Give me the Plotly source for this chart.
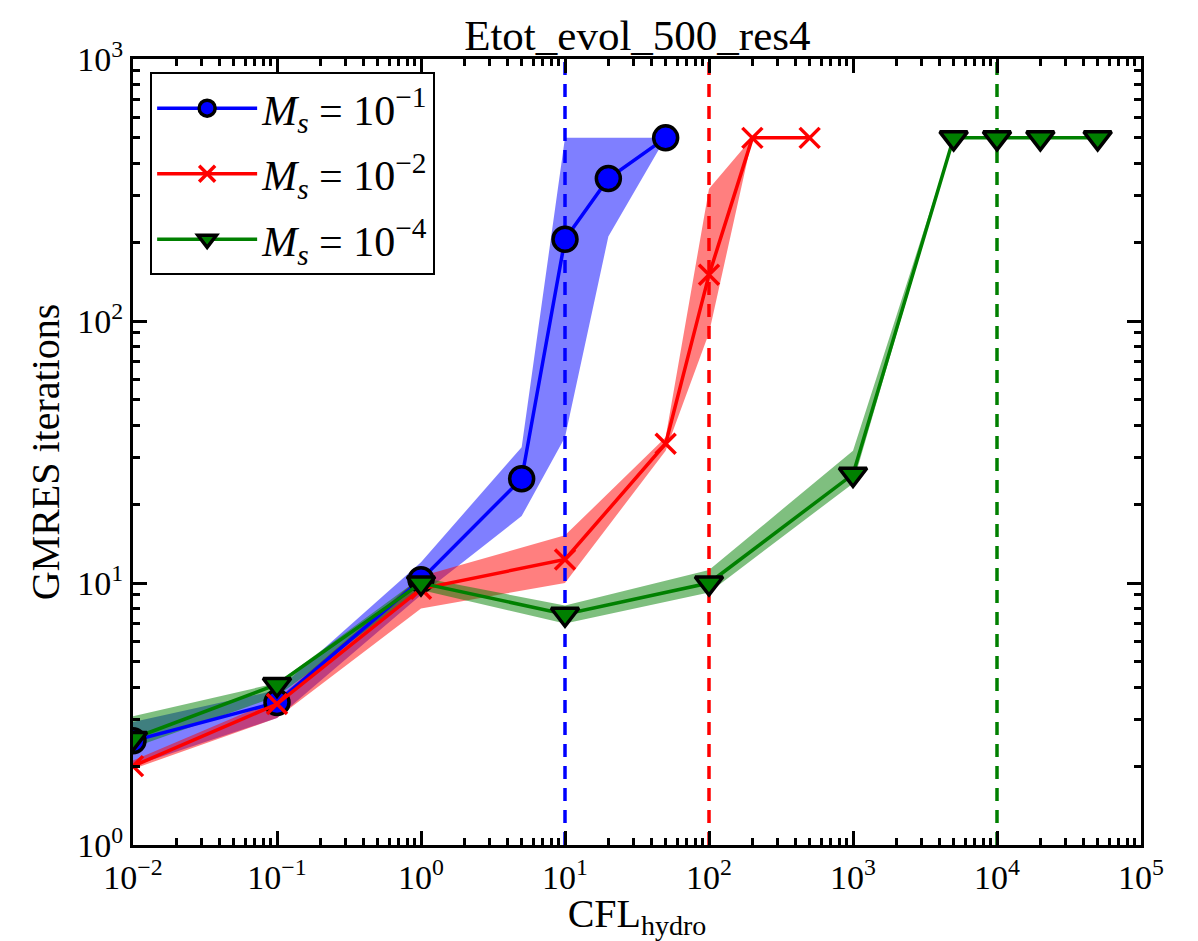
import plotly.graph_objects as go

# ---- data ----
x_ms1 = [0.01, 0.1, 1, 5, 10, 20, 50]
y_ms1 = [2.5, 3.5, 10.3, 25, 205, 350, 500]
lo_ms1 = [2.0, 3.05, 9.0, 18, 36, 210, 500]
hi_ms1 = [2.95, 3.9, 12.0, 33, 500, 500, 500]

x_ms2 = [0.01, 0.1, 1, 10, 50, 100, 200, 500]
y_ms2 = [2.0, 3.45, 9.5, 12.3, 34, 150, 500, 500]
lo_ms2 = [1.95, 3.05, 8.0, 10.0, 32, 90, 500, 500]
hi_ms2 = [2.1, 3.6, 10.6, 15.2, 36, 320, 500, 500]

x_ms4 = [0.01, 0.1, 1, 10, 100, 1000, 5000, 10000, 20000, 50000]
y_ms4 = [2.55, 4.1, 10.0, 7.6, 10.0, 26, 500, 500, 500, 500]
lo_ms4 = [2.35, 3.7, 9.4, 7.0, 9.2, 24, 500, 500, 500, 500]
hi_ms4 = [3.1, 4.15, 10.5, 8.2, 11.2, 32, 500, 500, 500, 500]

crit_cfl = [10, 100, 10000]
crit_colors = ["blue", "red", "green"]
y_range_vals = [1, 1000]

x_tickvals = [1e-2, 1e-1, 1, 10, 100, 1e3, 1e4, 1e5]
x_ticktext = ["10<sup>−2</sup>", "10<sup>−1</sup>", "10<sup>0</sup>", "10<sup>1</sup>",
              "10<sup>2</sup>", "10<sup>3</sup>", "10<sup>4</sup>", "10<sup>5</sup>"]
y_tickvals = [1, 10, 100, 1000]
y_ticktext = ["10<sup>0</sup>", "10<sup>1</sup>", "10<sup>2</sup>", "10<sup>3</sup>"]

# minor tick positions: digits 2..9 in each decade
x_minor = [d * 10.0 ** e for e in range(-2, 5) for d in range(2, 10)]
y_minor = [d * 10.0 ** e for e in range(0, 3) for d in range(2, 10)]

NB = "\u00a0"
series = [
    dict(name=f"<i>M</i><sub><i>s</i></sub>{NB}={NB}10<sup>−1</sup>", x=x_ms1, y=y_ms1, lo=lo_ms1, hi=hi_ms1,
         color="blue", fill="rgba(0,0,255,0.5)", symbol="circle", size=24),
    dict(name=f"<i>M</i><sub><i>s</i></sub>{NB}={NB}10<sup>−2</sup>", x=x_ms2, y=y_ms2, lo=lo_ms2, hi=hi_ms2,
         color="red", fill="rgba(255,0,0,0.5)", symbol="x-thin", size=20),
    dict(name=f"<i>M</i><sub><i>s</i></sub>{NB}={NB}10<sup>−4</sup>", x=x_ms4, y=y_ms4, lo=lo_ms4, hi=hi_ms4,
         color="green", fill="rgba(0,128,0,0.5)", symbol="triangle-down", size=24),
]

FONT = "Liberation Serif"
fig = go.Figure()

# bands
for s in series:
    fig.add_trace(go.Scatter(
        x=list(s["x"]) + list(s["x"])[::-1],
        y=list(s["hi"]) + list(s["lo"])[::-1],
        fill="toself", fillcolor=s["fill"], line=dict(width=0),
        mode="lines", showlegend=False, hoverinfo="skip"))

# critical CFL dashed lines
for v, c in zip(crit_cfl, crit_colors):
    fig.add_trace(go.Scatter(
        x=[v, v], y=y_range_vals, mode="lines",
        line=dict(color=c, width=3.5, dash="13px,9px"),
        showlegend=False, hoverinfo="skip"))

# lines + markers
for i, s in enumerate(series):
    if s["symbol"] == "x-thin":
        marker = dict(symbol="x-thin", size=s["size"], line=dict(color=s["color"], width=3.5))
    else:
        marker = dict(symbol=s["symbol"], size=s["size"], color=s["color"],
                      line=dict(color="black", width=3.5))
    fig.add_trace(go.Scatter(
        x=s["x"], y=s["y"], mode="lines+markers", name=s["name"],
        line=dict(color=s["color"], width=3.5), marker=marker,
        legendgroup=f"g{i}", legendrank=i + 1))

axis_common = dict(
    type="log", showgrid=False, zeroline=False,
    showline=True, linecolor="black", linewidth=3, mirror="ticks",
    ticks="inside", ticklen=14, tickwidth=3, tickcolor="black",
    tickmode="array",
    tickfont=dict(family=FONT, size=34, color="black"),
)

fig.update_layout(
    width=1198, height=941,
    margin=dict(l=133, r=57, t=59, b=96),
    paper_bgcolor="white", plot_bgcolor="white",
    title=dict(text="Etot_evol_500_res4", x=0.532, xanchor="center", y=0.963, yanchor="middle",
               font=dict(family=FONT, size=43, color="black")),
    xaxis=dict(axis_common, range=[-2, 5], tickvals=x_tickvals, ticktext=x_ticktext,
               minor=dict(tickmode="array", tickvals=x_minor, ticks="inside", ticklen=7,
                          tickwidth=2.5, tickcolor="black", showgrid=False),
               title=dict(text="CFL<sub>hydro</sub>", font=dict(family=FONT, size=40, color="black"), standoff=2)),
    yaxis=dict(axis_common, range=[0, 3], tickvals=y_tickvals, ticktext=y_ticktext,
               minor=dict(tickmode="array", tickvals=y_minor, ticks="inside", ticklen=7,
                          tickwidth=2.5, tickcolor="black", showgrid=False),
               title=dict(text="GMRES iterations", font=dict(family=FONT, size=40, color="black"), standoff=6)),
    legend=dict(x=0.017, y=0.983, xanchor="left", yanchor="top",
                bgcolor="white", bordercolor="black", borderwidth=2,
                font=dict(family=FONT, size=42, color="black"),
                tracegroupgap=8, itemwidth=100),
    showlegend=True,
)

fig.write_html("out.html")
